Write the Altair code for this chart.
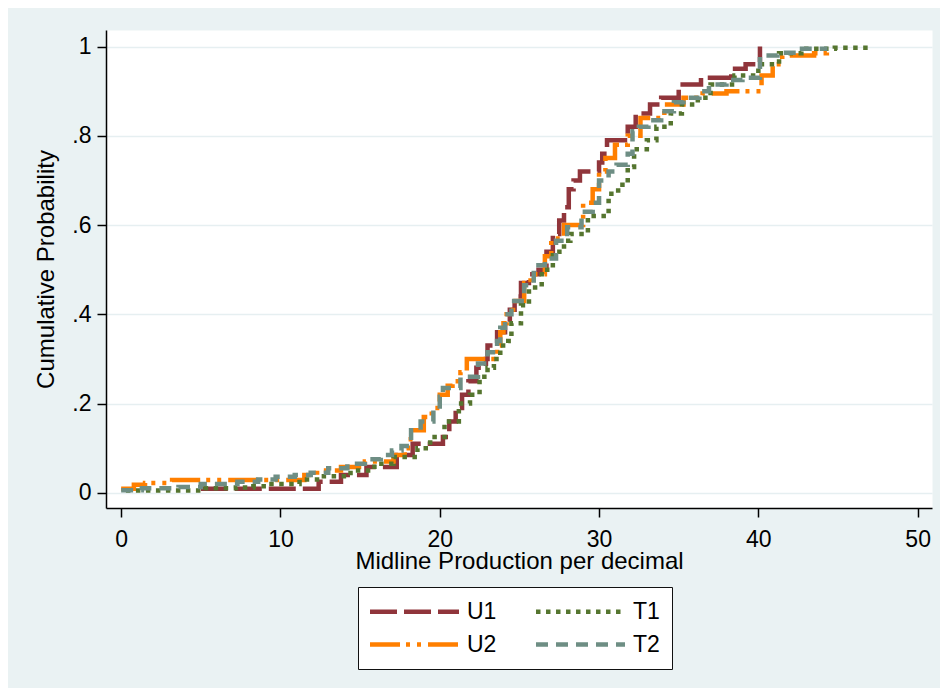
import altair as alt
import pandas as pd

series_order = ["U1", "T1", "U2", "T2"]          # legend order (row-major, 2 columns)
draw_order = ["U1", "U2", "T1", "T2"]

U1_x = [5.0, 12.4, 13.8, 15.4, 17.3, 18.3, 20.2, 20.6, 21.0, 21.4,
        21.8, 22.3, 22.9, 23.0, 23.6, 24.1, 24.4, 24.7, 25.1, 25.6,
        26.2, 26.7, 27.1, 27.5, 27.8, 28.1, 28.4, 28.8, 30.0, 30.2,
        30.5, 31.8, 32.3, 33.2, 33.9, 35.0, 36.4, 38.3, 39.2, 40.1]
U1_p = [0.009, 0.025, 0.04, 0.058, 0.085, 0.11, 0.125, 0.16, 0.19, 0.22,
        0.25, 0.28, 0.30, 0.33, 0.36, 0.38, 0.41, 0.44, 0.47, 0.49,
        0.50, 0.54, 0.58, 0.61, 0.64, 0.68, 0.70, 0.72, 0.74, 0.76,
        0.79, 0.82, 0.85, 0.87, 0.885, 0.915, 0.93, 0.95, 0.96, 1.0]

U2_x = [0.0, 0.8, 1.5, 3.2, 11.5, 12.3, 13.8, 15.3, 17.1, 17.8,
        18.0, 18.3, 19.0, 19.5, 20.0, 20.5, 20.8, 21.3, 21.7, 23.6,
        23.8, 24.0, 24.2, 24.6, 25.3, 25.7, 26.6, 27.0, 27.8, 29.0,
        29.6, 30.0, 30.4, 31.0, 31.8, 32.6, 34.1, 35.3, 36.5, 38.0,
        40.2, 40.9, 41.5, 43.5, 44.3]
U2_p = [0.009, 0.018, 0.022, 0.029, 0.04, 0.05, 0.058, 0.07, 0.085, 0.10,
        0.12, 0.14, 0.17, 0.19, 0.22, 0.24, 0.25, 0.27, 0.30, 0.33,
        0.36, 0.38, 0.40, 0.43, 0.47, 0.49, 0.53, 0.57, 0.60, 0.65,
        0.68, 0.72, 0.75, 0.78, 0.80, 0.84, 0.87, 0.885, 0.895, 0.90,
        0.935, 0.96, 0.98, 0.985, 1.0]

T1_x = [0.3, 5.3, 7.2, 8.3, 9.2, 11.2, 12.3, 14.4, 15.9, 17.1,
        18.6, 19.4, 20.3, 21.2, 21.9, 22.5, 23.0, 23.4, 23.8, 24.3,
        24.5, 25.1, 25.6, 26.4, 27.1, 27.8, 28.2, 29.3, 30.6, 31.2,
        31.8, 32.2, 33.0, 33.6, 34.5, 35.2, 36.2, 37.0, 38.5, 40.0,
        41.3, 42.7, 44.8, 47.0]
T1_p = [0.005, 0.01, 0.012, 0.015, 0.02, 0.03, 0.037, 0.05, 0.065, 0.08,
        0.10, 0.125, 0.16, 0.20, 0.22, 0.26, 0.28, 0.30, 0.33, 0.34,
        0.38, 0.42, 0.46, 0.50, 0.54, 0.565, 0.58, 0.62, 0.67, 0.69,
        0.73, 0.77, 0.79, 0.82, 0.85, 0.87, 0.885, 0.915, 0.935, 0.96,
        0.985, 0.995, 0.997, 1.0]

T2_x = [0.0, 1.3, 3.6, 5.0, 7.3, 8.6, 9.7, 10.9, 11.9, 13.0,
        14.2, 15.3, 16.3, 17.0, 17.6, 18.2, 18.8, 19.6, 20.0, 20.2,
        21.3, 22.4, 23.0, 23.6, 23.8, 24.1, 24.5, 25.3, 25.9, 26.6,
        27.3, 28.0, 28.9, 29.6, 30.0, 30.6, 31.1, 31.8, 32.1, 32.5,
        33.1, 33.9, 34.7, 35.3, 36.3, 36.9, 38.0, 39.0, 40.1, 41.2,
        42.5, 44.2]
T2_p = [0.006, 0.01, 0.013, 0.02, 0.025, 0.03, 0.036, 0.04, 0.045, 0.055,
        0.065, 0.075, 0.085, 0.095, 0.105, 0.14, 0.16, 0.185, 0.215, 0.235,
        0.26, 0.29, 0.315, 0.34, 0.37, 0.40, 0.43, 0.465, 0.51, 0.525,
        0.565, 0.595, 0.63, 0.65, 0.70, 0.72, 0.735, 0.76, 0.81, 0.82,
        0.835, 0.855, 0.875, 0.885, 0.90, 0.915, 0.925, 0.93, 0.98, 0.986,
        0.995, 1.0]

x_ticks = [0, 10, 20, 30, 40, 50]
y_ticks = [0, 0.2, 0.4, 0.6, 0.8, 1.0]

colors = {"U1": "#90353B", "T1": "#55752F", "U2": "#FF7F00", "T2": "#6E8E84"}
dashes = {"U1": [27, 7], "T1": [4.5, 5.5], "U2": [30, 6, 4, 7, 4, 7], "T2": [12, 8]}

series_data = {"U1": (U1_x, U1_p), "U2": (U2_x, U2_p),
               "T1": (T1_x, T1_p), "T2": (T2_x, T2_p)}
rows = []
for s in draw_order:
    xs, ps = series_data[s]
    for xv, pv in zip(xs, ps):
        rows.append({"series": s, "x": xv, "p": pv})
df = pd.DataFrame(rows)

FONT = "Liberation Sans"

# long horizontal legend symbol: custom path scaled by sqrt(size)/2 = 10 -> 89 px long
legend = alt.Legend(
    title=None, orient="none", legendX=252, legendY=557,
    direction="horizontal", columns=2,
    symbolType="M-4.45,0H4.45", symbolSize=400, symbolStrokeWidth=4.5,
    symbolOffset=32,
    labelFont=FONT, labelFontSize=23, labelColor="black",
    labelOffset=40, columnPadding=30, rowPadding=8, padding=12,
    strokeColor="#111111", fillColor="white",
)

chart = alt.Chart(df).mark_line(
    interpolate="step-after", strokeWidth=4.5, clip=True
).encode(
    x=alt.X("x:Q",
            scale=alt.Scale(domain=[-0.95, 50.9], nice=False, zero=False),
            axis=alt.Axis(values=x_ticks, title="Midline Production per decimal",
                          grid=False, domainColor="black", domainWidth=1.5,
                          tickColor="black", tickWidth=1.5, tickSize=9,
                          labelFont=FONT, labelFontSize=23, labelColor="black",
                          labelPadding=11, labelFlush=False,
                          titleFont=FONT, titleFontSize=24, titleColor="black",
                          titleFontWeight="normal", titleY=60,
                          titleBaseline="alphabetic")),
    y=alt.Y("p:Q",
            scale=alt.Scale(domain=[-0.034, 1.037], nice=False, zero=False),
            axis=alt.Axis(values=y_ticks, title="Cumulative Probability",
                          labelExpr="datum.value == 0 ? '0' : datum.value == 1 ? '1' : '.' + format(datum.value * 10, 'd')",
                          grid=True, gridColor="#E6EFF1", gridWidth=1.6,
                          domainColor="black", domainWidth=1.5,
                          tickColor="black", tickWidth=1.5, tickSize=9,
                          labelFont=FONT, labelFontSize=23, labelColor="black",
                          labelPadding=6, labelFlush=False,
                          titleFont=FONT, titleFontSize=24, titleColor="black",
                          titleFontWeight="normal", titleAngle=270,
                          titleX=-53, titleY=239, titleAlign="center",
                          titleBaseline="alphabetic")),
    color=alt.Color("series:N",
                    scale=alt.Scale(domain=series_order,
                                    range=[colors[s] for s in series_order]),
                    legend=legend),
    strokeDash=alt.StrokeDash("series:N",
                              scale=alt.Scale(domain=series_order,
                                              range=[dashes[s] for s in series_order]),
                              legend=legend),
).properties(
    width=826, height=478,
    background="#EAF2F3",
    padding={"left": 98, "top": 22, "right": 8, "bottom": 180},
    autosize=alt.AutoSizeParams(type="none"),
).configure_view(
    fill="white", stroke="transparent"
)

chart.save("out.html", embed_options={"renderer": "svg", "actions": False})
